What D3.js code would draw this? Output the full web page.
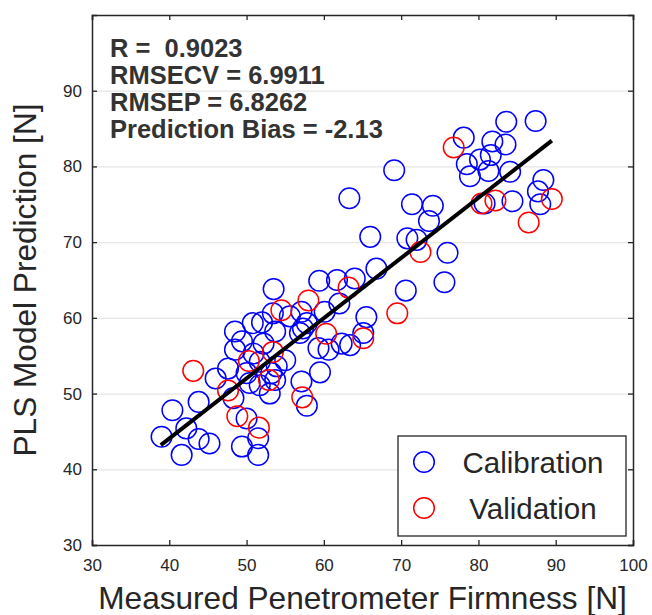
<!DOCTYPE html>
<html>
<head>
<meta charset="utf-8">
<script src="https://cdn.jsdelivr.net/npm/d3@7"></script>
<style>
    body { margin: 0; background: #fff; }
    text { font-family: "Liberation Sans", Arial, Helvetica, sans-serif; fill: #262626; }
    .axis path, .axis line { stroke: #262626; stroke-width: 1.3; }
    .grid line { stroke: #e6e6e6; stroke-width: 1.2; }
    .grid path { display: none; }
</style>
</head>
<body>
<svg width="652" height="615"></svg>
<script>
// measured vs predicted firmness, calibration set
var calX = [63.3, 66.0, 66.8, 59.4, 61.7, 64.0, 53.5, 62.0, 60.1, 57.1, 55.6, 53.4, 52.0, 53.7, 48.5,
    49.4, 48.5, 52.2, 57.3, 56.9, 57.8, 65.5, 62.3, 63.4, 59.3, 60.6, 65.1, 50.9, 51.7, 53.9,
    55.0, 47.6, 46.0, 50.0, 53.2, 53.7, 50.4, 51.7, 53.0, 48.3, 43.8, 40.4, 57.1, 59.5, 57.8,
    50.0, 42.2, 39.0, 43.8, 45.2, 41.6, 49.4, 51.5, 51.5, 50.8,
    83.6, 87.4, 78.1, 81.8, 83.5, 78.5, 80.2, 81.6, 81.3, 78.9, 84.1, 88.4, 87.7, 88.0, 84.4,
    80.8, 69.1, 71.4, 74.1, 73.6, 70.8, 72.0, 76.0, 75.6, 70.6];
var calY = [75.8, 70.7, 66.5, 64.9, 65.0, 65.2, 63.8, 61.9, 60.8, 60.8, 60.2, 60.6, 59.4, 58.2, 58.2,
    56.9, 55.8, 56.6, 58.6, 58.0, 59.3, 60.1, 56.6, 56.4, 56.0, 55.8, 58.0, 55.3, 54.2, 53.6,
    54.4, 53.3, 52.0, 52.7, 52.7, 51.8, 51.4, 51.1, 50.0, 49.4, 48.9, 47.8, 51.6, 52.8, 48.4,
    46.7, 45.4, 44.3, 44.0, 43.4, 41.9, 43.0, 44.1, 41.9, 59.3,
    85.9, 86.0, 83.8, 83.3, 82.9, 80.3, 80.9, 81.5, 79.4, 78.7, 79.3, 78.2, 76.7, 75.0, 75.4,
    75.1, 79.5, 75.0, 74.8, 72.8, 70.5, 70.3, 68.6, 64.7, 63.6];

// validation set
var valX = [43.1, 47.6, 48.8, 51.6, 50.3, 53.4, 52.9, 54.5, 58.0, 60.3, 63.2, 65.1, 57.2,
    76.8, 80.4, 82.2, 89.5, 86.5, 72.5, 69.5];
var valY = [53.0, 50.4, 47.0, 45.5, 54.3, 55.5, 51.8, 61.0, 62.3, 57.9, 64.0, 57.3, 49.5,
    82.5, 75.1, 75.5, 75.7, 72.6, 68.7, 60.6];

// fitted line end points
var fitX = [38.9, 89.5];
var fitY = [43.2, 83.4];

var xTicks = [30, 40, 50, 60, 70, 80, 90, 100];
var yTicks = [30, 40, 50, 60, 70, 80, 90];
var statLines = ['R =  0.9023', 'RMSECV = 6.9911', 'RMSEP = 6.8262', 'Prediction Bias = -2.13'];
var legendNames = ['Calibration', 'Validation'];
var legendColors = ['#0000ff', '#ff0000'];

var svg = d3.select('svg');
var plotLeft = 92, plotRight = 633, plotTop = 15, plotBottom = 545;

var xScale = d3.scaleLinear().domain([30, 100]).range([plotLeft, plotRight]);
var yScale = d3.scaleLinear().domain([30, 100]).range([plotBottom, plotTop]);

//y grid lines
svg.append('g')
    .attr('class', 'grid')
    .attr('transform', 'translate(' + plotLeft + ',0)')
    .call(d3.axisLeft(yScale).tickValues(yTicks.slice(1)).tickSize(-(plotRight - plotLeft)).tickFormat(''));

//calibration points
svg.append('g').selectAll('circle')
    .data(calX.map((d, i) => [d, calY[i]]))
    .enter()
    .append('circle')
    .attr('cx', d => xScale(d[0]))
    .attr('cy', d => yScale(d[1]))
    .attr('r', 10.3)
    .style('fill', 'none')
    .style('stroke', legendColors[0])
    .style('stroke-width', 1.5);

//validation points
svg.append('g').selectAll('circle')
    .data(valX.map((d, i) => [d, valY[i]]))
    .enter()
    .append('circle')
    .attr('cx', d => xScale(d[0]))
    .attr('cy', d => yScale(d[1]))
    .attr('r', 10.3)
    .style('fill', 'none')
    .style('stroke', legendColors[1])
    .style('stroke-width', 1.5);

//regression line
svg.append('line')
    .attr('x1', xScale(fitX[0]))
    .attr('y1', yScale(fitY[0]))
    .attr('x2', xScale(fitX[1]))
    .attr('y2', yScale(fitY[1]))
    .style('stroke', '#000')
    .style('stroke-width', 4);

//axes, ticks pointing inside like matlab
var xAxis = svg.append('g')
    .attr('class', 'axis')
    .attr('transform', 'translate(0,' + plotBottom + ')')
    .call(d3.axisBottom(xScale).tickValues(xTicks).tickSize(-5).tickPadding(14).tickFormat(d3.format('d')));
xAxis.selectAll('text').style('font-size', '17px');

svg.append('g')
    .attr('class', 'axis')
    .attr('transform', 'translate(0,' + plotTop + ')')
    .call(d3.axisTop(xScale).tickValues(xTicks).tickSize(-5).tickFormat(''));

var yAxis = svg.append('g')
    .attr('class', 'axis')
    .attr('transform', 'translate(' + plotLeft + ',0)')
    .call(d3.axisLeft(yScale).tickValues(yTicks).tickSize(-5).tickPadding(10).tickFormat(d3.format('d')));
yAxis.selectAll('text').style('font-size', '17px');

svg.append('g')
    .attr('class', 'axis')
    .attr('transform', 'translate(' + plotRight + ',0)')
    .call(d3.axisRight(yScale).tickValues(yTicks).tickSize(-5).tickFormat(''));

svg.selectAll('.axis path').style('stroke-width', 1.5);

//axis labels
svg.append('text')
    .attr('text-anchor', 'middle')
    .attr('transform', 'translate(' + ((plotLeft + plotRight) / 2) + ',609)')
    .style('font-size', '31.6px')
    .text('Measured Penetrometer Firmness [N]');

svg.append('text')
    .attr('text-anchor', 'middle')
    .attr('transform', 'translate(36,' + ((plotTop + plotBottom) / 2) + ') rotate(-90)')
    .style('font-size', '31.6px')
    .text('PLS Model Prediction [N]');

//stats block
svg.append('g').selectAll('text')
    .data(statLines)
    .enter()
    .append('text')
    .attr('x', 110)
    .attr('y', (d, i) => 57 + i * 27)
    .style('font-size', '25.5px')
    .style('font-weight', 'bold')
    .style('white-space', 'pre')
    .style('fill', '#333')
    .text(d => d);

//legend
var legend = svg.append('g');
legend.append('rect')
    .attr('x', 398)
    .attr('y', 436)
    .attr('width', 228)
    .attr('height', 100)
    .style('fill', '#fff')
    .style('stroke', '#262626')
    .style('stroke-width', 1.3);

var item = legend.selectAll('.item')
    .data(legendNames)
    .enter()
    .append('g')
    .attr('class', 'item')
    .attr('transform', (d, i) => 'translate(0,' + (462 + i * 46) + ')');

item.append('circle')
    .attr('cx', 424)
    .attr('r', 10.3)
    .style('fill', 'none')
    .style('stroke', (d, i) => legendColors[i])
    .style('stroke-width', 1.5);

item.append('text')
    .attr('x', 533)
    .attr('y', 11)
    .attr('text-anchor', 'middle')
    .style('font-size', '29.5px')
    .text(d => d);
</script>
</body>
</html>
